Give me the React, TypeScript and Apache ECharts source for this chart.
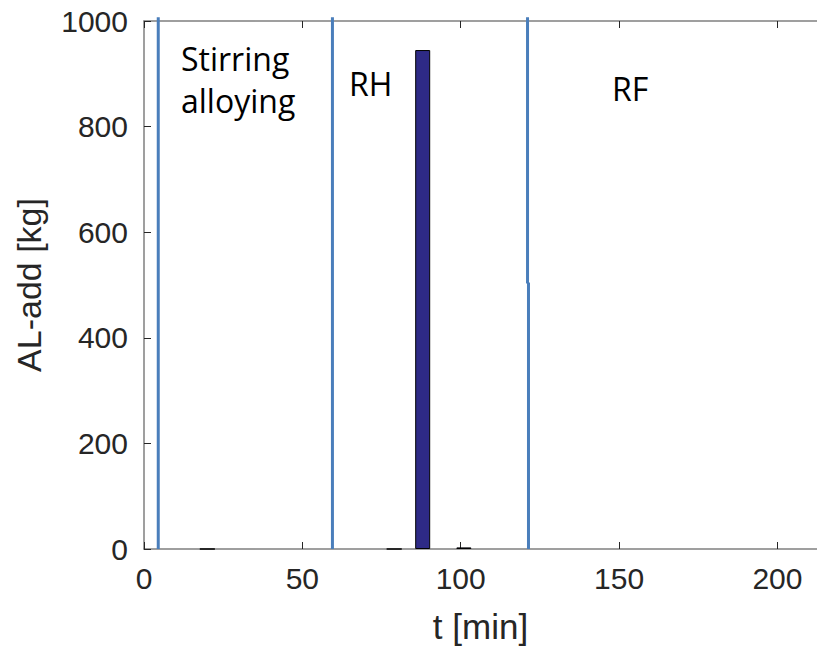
import React, { useEffect, useRef } from "react";
import * as echarts from "echarts";

// Bars (AL additions): time [min] and amount [kg]
const barTimes = [20, 79, 88, 101];
const barValues = [0, 0, 945, 3];

// Process-stage boundary lines: [t, kg] points
const line1 = [[4.5, 0], [4.5, 1007]];
const line2 = [[59.5, 0], [59.5, 1007]];
const line3 = [[121.4, 0], [121.4, 504], [121.1, 504], [121.1, 1007]];

const stageLabels = ["Stirring", "alloying", "RH", "RF"];

const xTicks = [0, 50, 100, 150, 200];
const yTicks = [0, 200, 400, 600, 800, 1000];

export default function App() {
  const ref = useRef<HTMLDivElement>(null);
  useEffect(() => {
    if (!ref.current) return;
    const chart = echarts.init(ref.current, undefined, { renderer: "svg" });
    const axisColor = "#262626";
    const boxColor = "#7f7f7f";
    const lineStyle = { color: "#4a7ebb", width: 3 };
    const annotFont = "'Open Sans', sans-serif";
    chart.setOption({
      animation: false,
      backgroundColor: "#ffffff",
      grid: { left: 144, top: 21, right: 0, bottom: 104, containLabel: false },
      xAxis: [
        {
          type: "value",
          min: xTicks[0],
          max: 212.5,
          interval: 50,
          name: "t [min]",
          nameLocation: "middle",
          nameGap: 60,
          nameTextStyle: { fontSize: 35, color: axisColor, fontFamily: "Liberation Sans, Arial" },
          axisLine: { show: true, lineStyle: { color: boxColor, width: 1.5 } },
          axisTick: { show: true, inside: true, length: 7, lineStyle: { color: axisColor } },
          axisLabel: {
            fontSize: 30,
            color: axisColor,
            margin: 14,
            fontFamily: "Liberation Sans, Arial",
            showMaxLabel: false,
          },
          splitLine: { show: false },
        },
        {
          type: "value",
          position: "top",
          min: xTicks[0],
          max: 212.5,
          interval: 50,
          axisLine: { show: true, lineStyle: { color: boxColor, width: 1.5 } },
          axisTick: { show: true, inside: true, length: 7, lineStyle: { color: axisColor } },
          axisLabel: { show: false },
          splitLine: { show: false },
        },
      ],
      yAxis: {
        type: "value",
        min: yTicks[0],
        max: yTicks[yTicks.length - 1],
        interval: 200,
        name: "AL-add [kg]",
        nameLocation: "middle",
        nameGap: 98,
        nameTextStyle: { fontSize: 34, color: axisColor, fontFamily: "Liberation Sans, Arial" },
        axisLine: { show: true, lineStyle: { color: boxColor, width: 1.5 } },
        axisTick: { show: true, inside: true, length: 7, lineStyle: { color: axisColor } },
        axisLabel: {
          fontSize: 30,
          color: axisColor,
          margin: 16,
          fontFamily: "Liberation Sans, Arial",
          formatter: (v: number) => String(v),
        },
        splitLine: { show: false },
      },
      series: [
        {
          type: "bar",
          data: barTimes.map((t, i) => [t, barValues[i]]),
          barWidth: 15,
          itemStyle: { color: "#2e2a86", borderColor: "#000000", borderWidth: 1 },
        },
        { type: "line", data: line1, showSymbol: false, clip: false, lineStyle },
        { type: "line", data: line2, showSymbol: false, clip: false, lineStyle },
        { type: "line", data: line3, showSymbol: false, clip: false, lineStyle },
      ],
      graphic: [
        { type: "text", left: 181, top: 42, style: { text: stageLabels[0], font: `32px ${annotFont}`, fill: "#000" } },
        { type: "text", left: 181, top: 84, style: { text: stageLabels[1], font: `32px ${annotFont}`, fill: "#000" } },
        { type: "text", left: 349, top: 67, style: { text: stageLabels[2], font: `32px ${annotFont}`, fill: "#000" } },
        { type: "text", left: 612, top: 72, style: { text: stageLabels[3], font: `32px ${annotFont}`, fill: "#000" } },
      ],
    });
    return () => chart.dispose();
  }, []);
  return (
    <div
      ref={ref}
      style={{ position: "absolute", left: 0, top: 0, width: 817, height: 653 }}
    />
  );
}
